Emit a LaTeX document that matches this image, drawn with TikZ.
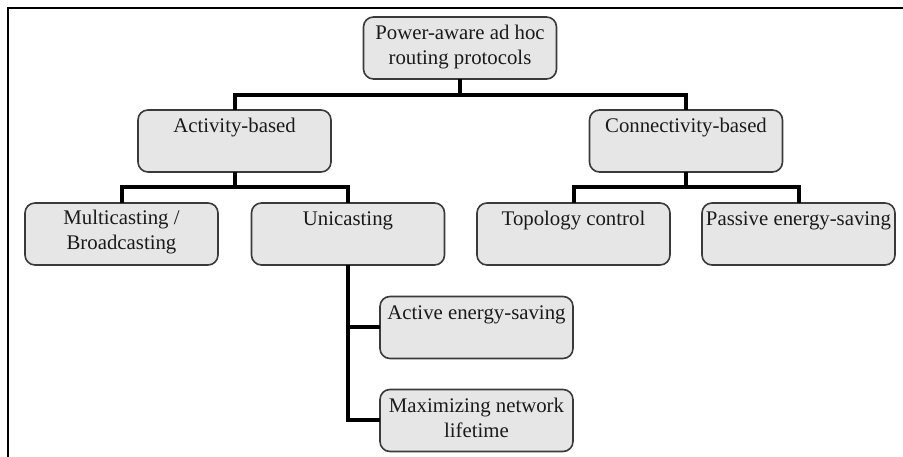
\documentclass[tikz,border=0pt]{standalone}
\usepackage{fontspec}
\setmainfont{Liberation Serif}
\definecolor{ink}{HTML}{1A1A1A}
\definecolor{boxfill}{HTML}{E6E6E6}
\definecolor{boxedge}{HTML}{3A3A3A}
\tikzset{
  box/.style={fill=boxfill,draw=boxedge,line width=0.8bp,rounded corners=5bp,minimum width=96.5bp,minimum height=31bp},
  label/.style={anchor=base,font=\fontsize{10.4bp}{12.5bp}\selectfont,text=ink},
  wire/.style={draw=black,line width=2bp},
  frame/.style={draw=black,line width=0.6bp}
}
\begin{document}
\begin{tikzpicture}[x=0.5bp,y=-0.5bp,every node/.style={inner sep=0pt,outer sep=0pt}]
\path[use as bounding box] (0,0) rectangle (903,457);
\draw[frame] (8,457) -- (8,8) -- (903,8);

\node[box] (root) at (460,48) {};
\node[label] (root-1) at (460,40) {Power-aware ad hoc};
\node[label] (root-2) at (460,65) {routing protocols};

\node[box] (act) at (234.5,141) {};
\node[label] (act-1) at (234.5,133) {Activity-based};
\node[box] (con) at (686,141) {};
\node[label] (con-1) at (686,133) {Connectivity-based};

\node[box] (multi) at (121.5,234) {};
\node[label] (multi-1) at (121.5,225) {Multicasting /};
\node[label] (multi-2) at (121.5,250) {Broadcasting};
\node[box] (uni) at (348,234) {};
\node[label] (uni-1) at (348,226) {Unicasting};
\node[box] (topo) at (573.5,234) {};
\node[label] (topo-1) at (573.5,226) {Topology control};
\node[box] (pass) at (798.5,234) {};
\node[label] (pass-1) at (798.5,226) {Passive energy-saving};

\node[box] (active) at (476.5,327.5) {};
\node[label] (active-1) at (476.5,320) {Active energy-saving};
\node[box] (maxi) at (476.5,420.5) {};
\node[label] (maxi-1) at (476.5,413) {Maximizing network};
\node[label] (maxi-2) at (476.5,438) {lifetime};

\coordinate (root-bar) at (460,95);
\coordinate (act-bar) at (234.5,187);
\coordinate (con-bar) at (686,187);
\draw[wire] (root.south) -- (root-bar);
\draw[wire] (act.north) |- (root-bar) -| (con.north);
\draw[wire] (act.south) -- (act-bar);
\draw[wire] (multi.north) |- (act-bar) -| (uni.north);
\draw[wire] (con.south) -- (con-bar);
\draw[wire] (topo.north) |- (con-bar) -| (pass.north);
\draw[wire] (uni.south) |- (active.west);
\draw[wire] (uni.south) |- (maxi.west);
\end{tikzpicture}
\end{document}
